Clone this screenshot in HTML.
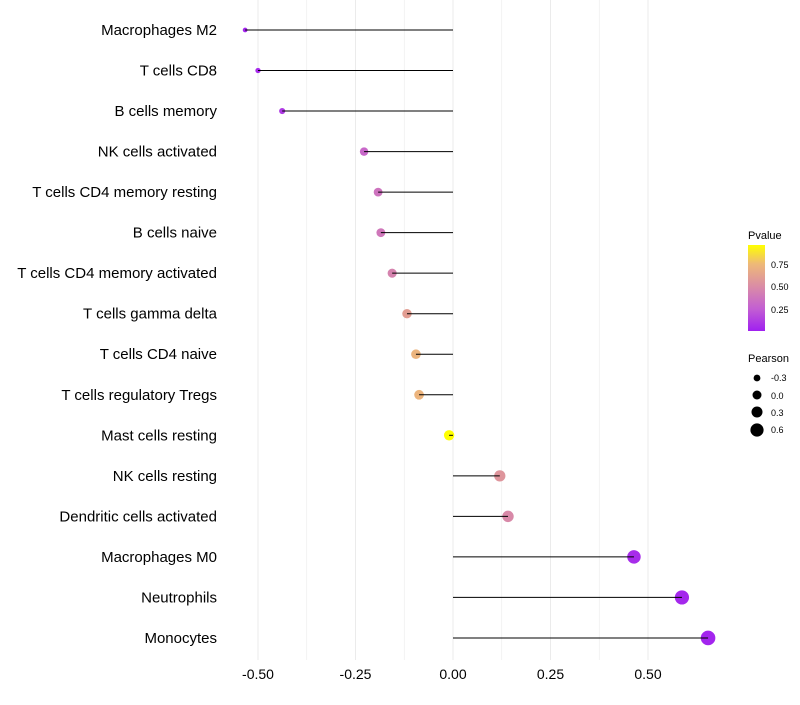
<!DOCTYPE html>
<html><head><meta charset="utf-8"><style>
body{margin:0;background:#fff;font-family:"Liberation Sans",sans-serif}
</style></head><body>
<svg id="c" width="800" height="700" xmlns="http://www.w3.org/2000/svg" font-family="Liberation Sans, sans-serif">
<defs><linearGradient id="pg" x1="0" y1="1" x2="0" y2="0">
<stop offset="0" stop-color="rgb(160,32,240)"/><stop offset="0.26" stop-color="rgb(195,95,210)"/><stop offset="0.52" stop-color="rgb(218,140,165)"/><stop offset="0.78" stop-color="rgb(238,185,120)"/><stop offset="1" stop-color="rgb(255,255,0)"/></linearGradient></defs>
<g id="grid"></g><g id="points"></g><g id="stems"></g><g id="labels"></g>
<g>
<text x="748" y="239" font-size="11">Pvalue</text>
<rect x="748" y="245" width="17" height="86" fill="url(#pg)"/>
<text x="771" y="268" font-size="9">0.75</text>
<text x="771" y="290" font-size="9">0.50</text>
<text x="771" y="313" font-size="9">0.25</text>
</g>
<g>
<text x="748" y="362" font-size="11">Pearson</text>
<circle cx="757" cy="378" r="3.4" fill="#000"/><text x="771" y="381" font-size="9">-0.3</text>
<circle cx="757" cy="395" r="4.5" fill="#000"/><text x="771" y="399" font-size="9">0.0</text>
<circle cx="757" cy="412" r="5.5" fill="#000"/><text x="771" y="416" font-size="9">0.3</text>
<circle cx="757" cy="430" r="6.6" fill="#000"/><text x="771" y="433" font-size="9">0.6</text>
</g>
</svg>
<script>
const categories=["Macrophages M2","T cells CD8","B cells memory","NK cells activated","T cells CD4 memory resting","B cells naive","T cells CD4 memory activated","T cells gamma delta","T cells CD4 naive","T cells regulatory  Tregs","Mast cells resting","NK cells resting","Dendritic cells activated","Macrophages M0","Neutrophils","Monocytes"];
const pearson=[-0.533,-0.5,-0.438,-0.228,-0.192,-0.185,-0.156,-0.118,-0.095,-0.087,-0.01,0.12,0.141,0.464,0.587,0.654];
const pvalue=[0.02,0.04,0.1,0.3,0.36,0.38,0.45,0.6,0.72,0.72,0.97,0.55,0.48,0.05,0.03,0.02];
const xTicks=[-0.5,-0.25,0,0.25,0.5];
const xTickLabels=["-0.50","-0.25","0.00","0.25","0.50"];
const NS="http://www.w3.org/2000/svg";
const xs=v=>453+v*390;
const ys=i=>30+i*40.53;
const rs=v=>Math.sqrt(Math.max(3.5,27+40*v));
const stops=[[0,160,32,240],[0.26,195,95,210],[0.52,218,140,165],[0.78,238,185,120],[1,255,255,0]];
function col(p){const t=Math.max(0,Math.min(1,p/0.96));for(let k=1;k<stops.length;k++){if(t<=stops[k][0]){const a=stops[k-1],b=stops[k],f=(t-a[0])/(b[0]-a[0]);return `rgb(${[1,2,3].map(j=>Math.round(a[j]+(b[j]-a[j])*f)).join(',')})`;}}return 'rgb(255,255,0)';}
function mk(t,a,parent){const e=document.createElementNS(NS,t);for(const k in a)e.setAttribute(k,a[k]);parent.appendChild(e);return e;}
const grid=document.getElementById('grid'),points=document.getElementById('points'),stems=document.getElementById('stems'),labels=document.getElementById('labels');
for(let v=-0.5;v<=0.51;v+=0.125){const g=mk('line',{x1:xs(v),x2:xs(v),y1:0,y2:660,stroke:'#ebebeb','stroke-width':Math.abs(v*4-Math.round(v*4))<0.01?1:0.6},grid);

}
xTicks.forEach((v,i)=>{const t=mk('text',{x:xs(v),y:679,'font-size':14,'text-anchor':'middle',fill:'#000'},labels);t.textContent=xTickLabels[i];

});
categories.forEach((c,i)=>{
const t=mk('text',{x:217,y:ys(i)+5,'font-size':15,'text-anchor':'end',fill:'#000'},labels);t.textContent=c;


const p=mk('circle',{cx:xs(pearson[i]),cy:ys(i),r:rs(pearson[i]),fill:col(pvalue[i])},points);


const l=mk('line',{x1:xs(0),x2:xs(pearson[i]),y1:ys(i),y2:ys(i),stroke:'#000','stroke-width':1},stems);


});
</script>
</body></html>
